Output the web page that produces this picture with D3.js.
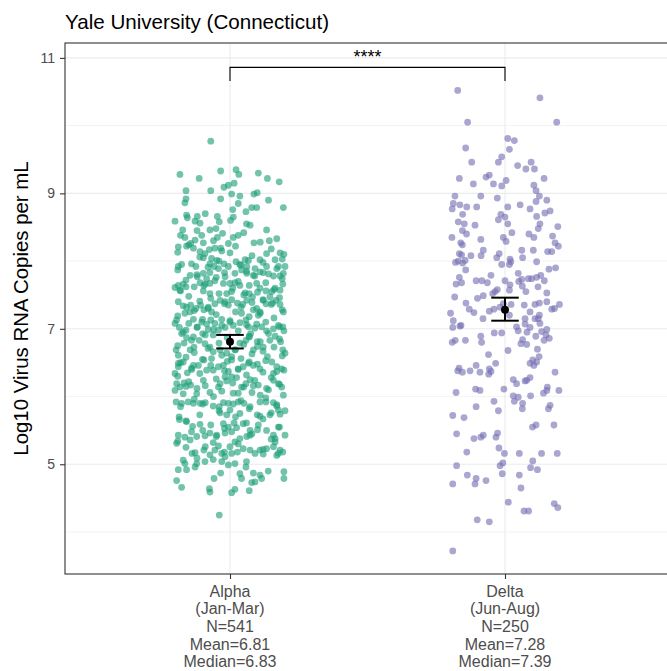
<!DOCTYPE html>
<html><head><meta charset="utf-8">
<script src="https://cdn.jsdelivr.net/npm/d3@7"></script>
<style>body{margin:0;background:#fff} svg{display:block} text{font-family:"Liberation Sans",Arial,sans-serif}</style>
</head><body><svg id="c" width="667" height="671"></svg>
<script>
const chartTitle = "Yale University (Connecticut)";
const yTitle = "Log10 Virus RNA Copies per mL";
const categories = ["Alpha", "Delta"];
const categoryLabels = [
  ["Alpha", "(Jan-Mar)", "N=541", "Mean=6.81", "Median=6.83"],
  ["Delta", "(Jun-Aug)", "N=250", "Mean=7.28", "Median=7.39"]
];
const means = [6.81, 7.28];
const ciLow = [6.71, 7.12];
const ciHigh = [6.91, 7.46];
const yTicks = [5, 7, 9, 11];
const yMinorTicks = [4, 6, 8, 10];
const signifLabel = "****";
const signifBar = [10.86, 10.66];
const groupColors = ["#1b9e77", "#7570b3"];

// [log10 value, horizontal jitter in category units]
const alphaPoints = [
[9.77,-0.070],[9.28,-0.182],[9.22,-0.112],[9.33,-0.034],[9.35,0.022],[9.28,0.032],[9.30,0.103],[9.22,0.136],[9.17,0.179],
[9.04,-0.160],[9.04,-0.070],[9.09,-0.022],[9.12,-0.006],[9.15,0.015],[8.92,-0.034],[8.99,0.006],[8.96,0.036],[8.99,0.087],[9.01,0.099],[8.79,0.194],
[8.92,-0.160],[8.86,-0.164],[8.68,-0.158],[8.64,-0.155],[8.59,-0.200],[8.46,-0.172],[8.59,-0.127],[8.66,-0.119],[8.56,-0.109],[8.66,-0.046],
[8.58,-0.039],[8.60,0.002],[8.65,0.012],[8.76,0.010],[8.85,0.030],[8.73,0.058],[8.79,0.079],[8.79,0.097],[8.53,0.073],[8.46,0.133],
[8.35,-0.164],[8.21,-0.188],[8.22,-0.158],[8.26,-0.143],[8.31,-0.127],[8.38,-0.103],[8.27,-0.097],[8.46,-0.073],[8.48,-0.051],[8.35,-0.046],
[8.41,-0.027],[8.26,-0.006],[8.35,0.012],[8.38,0.030],[8.27,0.087],[8.30,0.143],
[8.19,-0.133],[8.14,-0.109],[8.11,-0.091],[8.17,-0.075],[8.19,-0.055],[8.19,-0.034],[8.05,-0.097],[8.04,-0.067],[8.01,-0.048],[8.12,0.000],
[8.02,0.109],[8.11,0.133],[8.02,0.164],[8.12,0.182],[8.10,0.196],
[7.92,-0.188],[7.95,-0.176],[7.92,-0.124],[7.96,-0.073],[7.92,-0.058],[7.89,-0.042],[7.96,-0.022],[7.92,-0.006],[7.99,0.022],[7.95,0.036],
[8.02,0.055],[8.01,0.067],[7.92,0.061],[7.87,0.042],[7.89,0.091],[7.84,0.109],[7.92,0.133],[7.92,0.176],[7.78,0.182],[7.82,0.194],
[7.92,0.200],[7.82,-0.097],[7.83,-0.073],[7.79,-0.145],[7.77,-0.119],[7.74,-0.085],[7.77,-0.018],[7.82,0.018],[7.82,0.061],[7.79,0.085],
[7.83,0.121],[7.78,0.158],
[7.61,-0.200],[7.64,-0.188],[7.66,-0.170],[7.57,-0.182],[7.62,-0.160],[7.68,-0.109],[7.64,-0.095],[7.67,-0.073],[7.71,-0.055],[7.67,-0.024],
[7.67,0.000],[7.68,0.018],[7.64,0.036],[7.56,-0.097],[7.52,-0.073],[7.52,-0.012],[7.55,0.006],[7.53,0.055],[7.52,0.070],[7.67,0.097],
[7.60,0.109],[7.56,0.131],[7.55,0.152],[7.60,0.164],[7.57,0.182],[7.66,0.192],[7.47,0.145],
[7.40,-0.188],[7.32,-0.158],[7.35,-0.143],[7.30,-0.124],[7.23,-0.164],[7.25,-0.145],[7.35,-0.107],[7.28,-0.095],[7.32,-0.079],[7.25,-0.067],
[7.37,-0.055],[7.42,-0.036],[7.40,-0.018],[7.35,-0.006],[7.43,0.006],[7.38,0.027],[7.36,0.046],[7.42,0.061],[7.47,0.082],[7.30,0.097],
[7.20,0.103],[7.42,0.121],[7.37,0.131],[7.38,0.155],[7.42,0.167],[7.36,0.182],[7.25,0.194],[7.28,0.085],[7.25,0.109],[7.23,0.042],
[7.08,-0.200],[7.13,-0.194],[7.02,-0.184],[6.93,-0.176],[6.98,-0.160],[7.14,-0.133],[7.03,-0.119],[7.10,-0.103],[7.07,-0.085],[7.13,-0.070],
[7.08,-0.055],[7.14,-0.030],[7.02,-0.018],[7.10,0.000],[7.05,0.012],[7.09,0.036],[7.13,0.058],[7.03,0.067],[6.93,0.075],[7.07,0.097],
[7.03,0.115],[6.97,0.133],[7.00,0.158],[7.05,0.176],[7.03,0.192],[6.97,0.196],[6.93,-0.099],[6.99,-0.079],[6.91,-0.061],[6.98,-0.042],
[6.88,-0.133],[6.87,-0.158],
[6.69,-0.196],[6.61,-0.188],[6.79,-0.167],[6.69,-0.145],[6.73,-0.131],[6.83,-0.112],[6.78,-0.091],[6.73,-0.073],[6.66,-0.061],[6.69,-0.036],
[6.79,0.036],[6.83,0.058],[6.88,0.070],[6.69,0.085],[6.81,0.099],[6.73,0.121],[6.83,0.145],[6.89,0.164],[6.81,0.184],[6.69,0.192],
[6.64,0.200],[6.69,0.018],[6.64,-0.012],
[6.49,-0.188],[6.44,-0.188],[6.51,-0.170],[6.35,-0.155],[6.40,-0.139],[6.46,-0.115],[6.39,-0.085],[6.39,-0.061],[6.44,-0.042],[6.46,-0.024],
[6.37,-0.006],[6.59,0.006],[6.54,0.006],[6.41,0.030],[6.44,0.048],[6.49,0.067],[6.46,0.085],[6.41,0.109],[6.59,0.136],[6.51,0.152],
[6.34,0.158],[6.37,0.170],[6.41,0.188],[6.39,0.196],[6.54,-0.095],[6.46,-0.133],[6.56,-0.067],[6.34,-0.200],
[6.09,-0.200],[6.19,-0.194],[6.14,-0.182],[6.20,-0.167],[6.15,-0.160],[6.17,-0.143],[6.04,-0.121],[6.24,-0.097],[6.06,-0.073],[6.14,-0.042],
[6.19,-0.036],[6.29,-0.018],[6.23,-0.012],[6.29,0.006],[6.28,0.024],[6.14,0.042],[6.19,0.058],[6.25,0.073],[6.16,0.085],[6.17,0.103],
[6.12,0.133],[6.24,0.158],[6.19,0.176],[6.14,0.188],[6.02,0.194],[6.05,0.012],[6.05,0.030],
[5.92,-0.196],[5.90,-0.176],[5.92,-0.152],[5.90,-0.133],[5.90,-0.109],[5.89,-0.099],[5.86,-0.061],[5.85,-0.039],[5.91,-0.024],[5.90,-0.006],
[5.89,0.012],[5.92,0.030],[5.90,0.051],[5.85,0.073],[5.92,0.109],[5.92,0.131],[5.91,0.158],[5.86,0.170],[5.80,0.176],[5.74,0.182],
[5.79,0.200],[5.76,-0.036],[5.73,-0.012],[5.80,0.000],[5.75,0.036],[5.73,0.099],[5.71,0.109],[5.73,0.145],[5.70,-0.185],[5.66,-0.184],
[5.63,-0.158],[5.56,-0.136],[5.59,-0.109],[5.50,-0.099],[5.46,-0.073],[5.43,-0.048],[5.60,-0.024],[5.55,-0.006],[5.61,0.015],[5.54,0.024],
[5.60,0.048],[5.50,0.073],[5.43,0.073],[5.58,0.103],[5.50,0.133],[5.43,0.158],[5.38,0.164],[5.55,0.176],[5.43,0.200],[5.43,-0.188],
[5.40,-0.164],[5.36,-0.145],[5.41,-0.121],[5.42,-0.091],[5.46,-0.018],[5.48,0.006],[5.38,0.036],[5.41,0.061],
[5.31,-0.194],[5.25,-0.160],[5.16,-0.138],[5.17,-0.127],[5.21,-0.095],[5.14,-0.073],[5.32,-0.061],[5.21,-0.055],[5.27,-0.042],[5.16,-0.030],
[5.11,-0.018],[5.26,0.000],[5.16,0.006],[5.33,0.018],[5.18,0.027],[5.23,0.048],[5.21,0.073],[5.16,0.091],[5.21,0.109],[5.15,0.121],
[5.23,0.133],[5.26,0.158],[5.33,0.164],[5.16,0.176],[5.21,0.182],[5.18,0.192],[5.01,-0.164],[5.06,-0.170],[5.01,-0.121],[5.04,-0.091],
[5.07,-0.061],[5.04,-0.030],[4.99,-0.006],[5.01,0.018],
[4.92,-0.188],[4.92,-0.158],[4.96,-0.127],[4.79,-0.058],[4.87,-0.034],[4.86,0.036],[4.79,0.042],[4.96,0.058],[4.87,0.085],[4.84,0.109],
[4.79,0.115],[4.90,0.139],[4.89,0.196],[4.79,0.196],[4.76,-0.194],[4.66,-0.176],[4.64,-0.075],[4.59,-0.073],[4.58,0.006],[4.63,0.018],
[4.61,0.070],[4.73,0.079],[4.74,0.091],[4.25,-0.039],
[8.45,-0.12],[8.42,0.05],[8.38,-0.18],[8.33,0.17],[8.30,-0.06],[8.28,0.11],[8.24,-0.15],[8.22,0.02],[8.18,0.15],[8.15,-0.03],
[8.13,-0.19],[8.08,0.08],[8.06,-0.11],[8.03,0.19],[8.00,-0.04],
[7.98,0.12],[7.96,-0.14],[7.94,0.04],[7.91,-0.08],[7.89,0.17],[7.87,-0.19],[7.85,0.06],[7.83,-0.02],[7.81,0.14],[7.80,-0.12],
[7.78,0.09],[7.76,-0.05],[7.74,0.19],[7.72,-0.16],[7.70,0.03],[7.68,0.13],[7.66,-0.09],[7.64,0.07],[7.62,-0.13],[7.60,0.01],
[7.58,0.16],[7.56,-0.18],[7.54,0.10],[7.52,-0.04],[7.50,0.05],
[7.48,-0.15],[7.46,0.18],[7.45,-0.07],[7.43,0.12],[7.41,-0.11],[7.39,0.08],[7.37,-0.02],[7.36,0.15],[7.34,-0.17],[7.32,0.04],
[7.30,-0.08],[7.28,0.19],[7.27,-0.13],[7.25,0.02],[7.23,0.11],[7.21,-0.05],[7.19,-0.19],[7.18,0.07],[7.16,0.16],[7.14,-0.10],
[7.12,0.00],[7.10,0.13],[7.08,-0.15],[7.06,0.06],[7.05,-0.03],[7.03,0.18],[7.02,-0.12],[7.01,0.09],
[6.99,-0.06],[6.97,0.03],[6.95,-0.17],[6.93,0.14],[6.91,-0.09],[6.89,0.07],[6.87,-0.01],[6.85,0.18],[6.83,-0.14],[6.81,0.11],
[6.79,-0.04],[6.77,0.05],[6.75,-0.19],[6.73,0.16],[6.71,-0.08],[6.69,0.02],[6.67,0.12],[6.65,-0.13],[6.63,0.08],[6.61,-0.03],
[6.60,0.19],[6.58,-0.16],[6.56,0.04],[6.55,-0.10],[6.53,0.13],[6.52,-0.01],[6.51,0.07],[6.50,-0.18],[6.74,0.10],
[6.48,0.10],[6.46,-0.07],[6.44,0.17],[6.42,-0.14],[6.40,0.03],[6.38,-0.02],[6.36,0.12],[6.34,-0.11],[6.32,0.06],[6.30,-0.19],
[6.28,0.15],[6.26,-0.05],[6.24,0.09],[6.22,-0.15],[6.20,0.01],[6.18,0.18],[6.16,-0.09],[6.14,0.05],[6.12,-0.12],[6.10,0.14],
[6.08,-0.03],[6.06,0.08],[6.04,-0.17],[6.02,0.11],[6.00,-0.06],
[5.98,0.13],[5.96,-0.13],[5.94,0.04],[5.91,-0.09],[5.88,0.17],[5.85,-0.18],[5.82,0.07],[5.79,-0.04],[5.76,0.15],[5.73,-0.11],
[5.70,0.02],[5.67,0.12],[5.64,-0.16],[5.61,0.06],[5.58,-0.07],[5.55,0.18],[5.53,-0.02],[5.51,0.10],
[5.48,-0.14],[5.45,0.08],[5.41,-0.05],[5.37,0.15],[5.34,-0.19],[5.30,0.03],[5.26,-0.09],[5.22,0.12],[5.18,-0.02],[5.13,0.17],
[5.09,-0.12],[5.04,0.06],[8.55,0.06],[8.70,-0.09],[8.90,0.14]
];

const deltaPoints = [
[10.52,-0.172],[10.41,0.127],[10.05,-0.136],[10.05,0.188],[9.81,0.010],[9.78,0.034],[9.67,-0.143],[9.65,0.016],[9.54,-0.012],[9.46,-0.121],
[9.46,-0.024],[9.46,0.095],[9.41,0.046],[9.36,0.076],[9.36,0.107],[9.22,-0.166],[9.22,0.142],[9.24,-0.069],[9.27,-0.057],[9.19,0.004],
[9.14,-0.115],[9.14,-0.042],[9.11,-0.012],[9.12,0.105],[9.04,0.113],[8.96,0.125],[8.96,-0.182],[8.96,-0.088],[8.93,-0.028],[8.85,-0.188],
[8.77,-0.192],[8.83,-0.164],[8.80,-0.139],[8.80,-0.103],[8.80,0.010],[8.83,0.055],[8.77,0.091],[8.88,0.113],[8.90,0.152],[8.69,-0.154],
[8.69,-0.015],[8.66,0.115],[8.71,0.145],[8.74,0.164],[8.61,-0.024],[8.58,-0.170],[8.55,-0.148],[8.53,-0.109],[8.55,0.010],[8.55,0.127],
[8.48,0.121],[8.51,0.192],[8.45,-0.155],[8.35,-0.193],[8.32,-0.088],[8.35,-0.006],[8.29,0.004],[8.42,0.025],[8.40,0.087],[8.35,0.105],
[8.37,0.173],[8.27,-0.161],[8.24,-0.155],[8.27,0.182],[8.22,0.194],[8.11,-0.166],[8.09,-0.158],[8.08,-0.124],[8.08,-0.087],[8.16,-0.079],
[8.11,-0.021],[8.16,0.061],[8.16,0.103],[8.14,0.155],[8.14,0.170],[8.00,-0.170],[7.97,-0.154],[8.01,-0.145],[8.03,0.018],[7.99,0.021],
[7.99,0.115],[7.95,-0.012],[7.95,0.016],[8.05,0.064],[7.87,-0.143],[7.90,0.184],[7.79,-0.051],[7.82,0.048],[7.76,-0.166],[7.66,-0.178],
[7.68,-0.158],[7.71,-0.105],[7.71,-0.084],[7.68,-0.064],[7.71,0.000],[7.65,0.018],[7.73,0.061],[7.74,0.085],[7.74,0.097],[7.76,0.115],
[7.79,0.130],[7.71,0.143],[7.47,-0.183],[7.49,-0.079],[7.52,-0.045],[7.58,-0.028],[7.57,0.016],[7.63,0.063],[7.55,0.076],[7.53,0.152],[7.55,-0.036],
[7.38,-0.142],[7.29,-0.130],[7.24,-0.113],[7.26,-0.057],[7.29,-0.040],[7.32,-0.018],[7.37,-0.006],[7.36,0.022],[7.23,-0.198],[7.20,0.016],
[7.15,0.073],[7.25,0.091],[7.36,0.109],[7.38,0.125],[7.40,0.152],[7.36,0.198],[7.29,0.170],[7.20,0.125],[7.15,0.121],[7.12,-0.188],
[7.04,-0.164],[7.02,-0.190],[7.03,0.042],[7.07,0.073],[7.02,0.091],[7.15,0.109],[7.08,0.127],[6.96,0.133],[6.99,0.152],[6.91,0.149],
[6.86,0.161],[6.97,0.048],[6.94,-0.039],[6.94,-0.012],[6.89,-0.088],[6.80,-0.192],[6.83,-0.181],[6.83,-0.144],[6.80,-0.085],[6.84,0.064],
[6.78,0.058],[6.77,0.079],[6.89,0.112],[6.83,0.142],[6.68,0.011],[6.70,0.118],[6.59,0.124],[6.49,0.091],[6.54,0.101],[6.46,0.105],
[6.51,0.115],[6.46,-0.105],[6.49,-0.034],[6.42,-0.167],[6.38,-0.172],[6.36,-0.155],[6.38,-0.127],[6.36,-0.091],[6.41,-0.057],[6.33,-0.059],
[6.37,-0.051],[6.36,0.182],[6.19,0.042],[6.23,0.073],[6.24,0.079],[6.28,0.091],[6.06,-0.178],[6.11,-0.107],[6.09,-0.091],[6.11,-0.004],
[6.14,0.154],[6.09,0.152],[6.09,0.196],[6.01,0.030],[5.99,0.048],[5.93,0.034],[5.90,0.064],[5.82,0.063],[6.01,0.093],[5.93,-0.040],
[5.79,-0.024],[5.85,-0.105],[5.72,-0.190],[5.69,-0.149],[5.82,0.158],[5.87,0.164],[5.58,0.113],[5.58,0.178],[5.45,-0.176],[5.38,-0.113],
[5.40,-0.088],[5.43,-0.079],[5.40,-0.033],[5.46,-0.027],[5.24,-0.022],[5.16,-0.002],[5.16,0.052],[5.16,0.133],[5.16,0.190],[5.18,-0.139],
[5.05,0.101],[4.95,0.093],[4.92,0.118],[5.02,-0.008],[4.98,-0.018],[4.86,-0.010],[4.98,-0.176],[4.84,-0.137],[4.79,-0.105],[4.71,-0.109],
[4.76,-0.069],[4.71,-0.190],[4.84,0.052],[4.65,0.058],[4.44,0.012],[4.42,0.179],[4.36,0.192],[4.31,0.069],[4.31,0.086],[4.18,-0.101],
[4.15,-0.057],[3.72,-0.190],
[7.45,-0.10],[7.62,0.12],[7.05,-0.16],[6.95,0.08],[8.05,-0.03],[7.88,0.16],[6.62,-0.06],[7.30,0.18],[8.40,-0.14],[6.25,0.03],
[7.15,-0.08],[7.70,0.05],[6.05,0.14],[8.65,0.00],[5.55,0.10],[7.98,-0.18],[7.35,0.07]
];

const groups = [alphaPoints, deltaPoints];

const W = 667, H = 671;
const P = {left: 65, right: 670, top: 43, bottom: 574};
const svg = d3.select("#c");
svg.append("rect").attr("width", W).attr("height", H).attr("fill", "#fff");

const x = d3.scalePoint().domain(categories).range([P.left, P.right]).padding(0.6);
const y = d3.scaleLinear().domain([3.38, 11.22]).range([P.bottom, P.top]);
const step = x.step();

svg.append("clipPath").attr("id", "pc").append("rect")
  .attr("x", P.left).attr("y", P.top).attr("width", P.right - P.left).attr("height", P.bottom - P.top);
const panel = svg.append("g").attr("clip-path", "url(#pc)");

panel.selectAll("line.minor").data(yMinorTicks).join("line")
  .attr("x1", P.left).attr("x2", P.right).attr("y1", d => y(d)).attr("y2", d => y(d))
  .attr("stroke", "#ebebeb").attr("stroke-width", 0.6);
panel.selectAll("line.major").data(yTicks).join("line")
  .attr("x1", P.left).attr("x2", P.right).attr("y1", d => y(d)).attr("y2", d => y(d))
  .attr("stroke", "#ebebeb").attr("stroke-width", 1.1);
panel.selectAll("line.vmajor").data(categories).join("line")
  .attr("x1", d => x(d)).attr("x2", d => x(d)).attr("y1", P.top).attr("y2", P.bottom)
  .attr("stroke", "#ebebeb").attr("stroke-width", 1.1);

groups.forEach((pts, gi) => {
  panel.append("g").selectAll("circle").data(pts).join("circle")
    .attr("cx", d => x(categories[gi]) + d[1] * step)
    .attr("cy", d => y(d[0]))
    .attr("r", 3.4)
    .attr("fill", groupColors[gi])
    .attr("fill-opacity", 0.62);
});

// error bars
const eb = panel.append("g").attr("stroke", "#000").attr("stroke-width", 2);
categories.forEach((c, i) => {
  const cx = x(c), hw = 0.05 * step;
  eb.append("line").attr("x1", cx - hw).attr("x2", cx + hw).attr("y1", y(ciLow[i])).attr("y2", y(ciLow[i]));
  eb.append("line").attr("x1", cx - hw).attr("x2", cx + hw).attr("y1", y(ciHigh[i])).attr("y2", y(ciHigh[i]));
  eb.append("line").attr("x1", cx).attr("x2", cx).attr("y1", y(ciLow[i])).attr("y2", y(ciHigh[i]));
  panel.append("circle").attr("cx", cx).attr("cy", y(means[i])).attr("r", 4).attr("fill", "#000");
});

// significance bracket
const x0 = x(categories[0]), x1 = x(categories[1]);
panel.append("path")
  .attr("d", `M${x0},${y(signifBar[1])}V${y(signifBar[0])}H${x1}V${y(signifBar[1])}`)
  .attr("fill", "none").attr("stroke", "#000").attr("stroke-width", 1.1);
svg.append("text").attr("x", (x0 + x1) / 2).attr("y", 63).attr("text-anchor", "middle")
  .attr("font-size", 18).attr("fill", "#000").text(signifLabel);

// panel border
svg.append("rect").attr("x", P.left).attr("y", P.top).attr("width", P.right - P.left).attr("height", P.bottom - P.top)
  .attr("fill", "none").attr("stroke", "#333333").attr("stroke-width", 1.1);

// y axis
const yAxis = svg.append("g").attr("transform", `translate(${P.left},0)`)
  .call(d3.axisLeft(y).tickValues(yTicks).tickSize(5).tickPadding(5).tickFormat(d3.format("d")));
yAxis.select(".domain").remove();
yAxis.selectAll(".tick line").attr("stroke", "#333333").attr("stroke-width", 1.1);
yAxis.selectAll(".tick text").attr("fill", "#4d4d4d").attr("font-size", 14)
  .attr("font-family", "'Liberation Sans', Arial, sans-serif");

// x axis
const xAxis = svg.append("g").attr("transform", `translate(0,${P.bottom})`)
  .call(d3.axisBottom(x).tickSize(5).tickFormat(""));
xAxis.select(".domain").remove();
xAxis.selectAll(".tick line").attr("stroke", "#333333").attr("stroke-width", 1.1);
categories.forEach((c, i) => {
  const t = svg.append("text").attr("text-anchor", "middle").attr("fill", "#4d4d4d").attr("font-size", 16);
  categoryLabels[i].forEach((line, k) => {
    t.append("tspan").attr("x", x(c)).attr("y", 596.7 + k * 17.6).text(line);
  });
});

// titles
svg.append("text").attr("x", P.left).attr("y", 29).attr("font-size", 20.6).attr("fill", "#000").text(chartTitle);
svg.append("text").attr("transform", `translate(28,${(P.top + P.bottom) / 2}) rotate(-90)`)
  .attr("text-anchor", "middle").attr("font-size", 20.4).attr("fill", "#000").text(yTitle);
</script>
</body></html>
